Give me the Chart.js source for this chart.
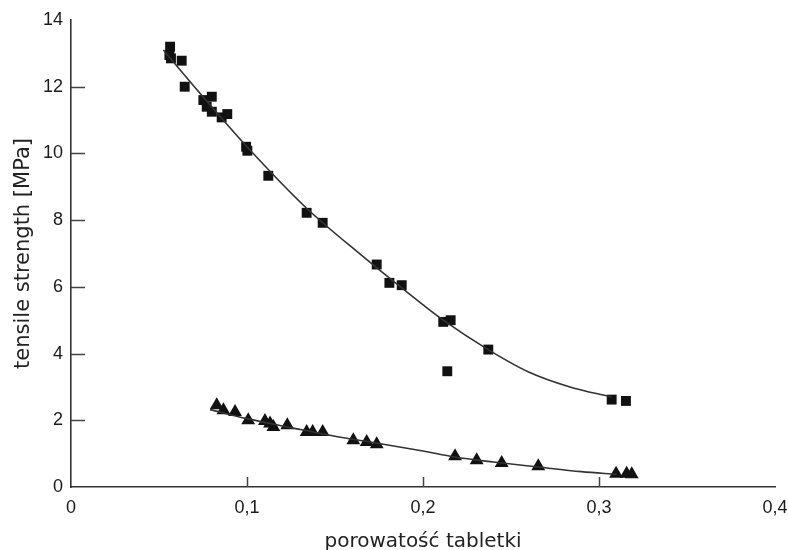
<!DOCTYPE html>
<html>
<head>
<meta charset="utf-8">
<script src="https://cdn.jsdelivr.net/npm/chart.js@4"></script>
<style>
  html, body { margin: 0; padding: 0; background: #ffffff; }
  #wrap { width: 788px; height: 550px; }
</style>
</head>
<body>
<div id="wrap"><canvas id="c" width="788" height="550"></canvas></div>
<script>
// ---- data ----
const squareX = [0.0563, 0.0559, 0.0568, 0.0629, 0.0646, 0.0752, 0.0800, 0.0771, 0.0800, 0.0856, 0.0888, 0.0995, 0.1002, 0.1121, 0.1339, 0.1430, 0.1737, 0.1809, 0.1879, 0.2115, 0.2157, 0.2138, 0.2371, 0.3072, 0.3153];
const squareY = [13.2, 12.95, 12.85, 12.78, 12.0, 11.6, 11.7, 11.4, 11.25, 11.08, 11.18, 10.2, 10.08, 9.33, 8.22, 7.92, 6.67, 6.12, 6.05, 4.95, 5.0, 3.47, 4.12, 2.62, 2.58];

const triX = [0.0828, 0.0866, 0.0932, 0.1007, 0.1102, 0.1131, 0.1150, 0.1229, 0.1339, 0.1373, 0.1430, 0.1604, 0.1680, 0.1737, 0.2182, 0.2305, 0.2447, 0.2655, 0.3097, 0.3157, 0.3186];
const triY = [2.45, 2.3, 2.25, 2.0, 1.98, 1.9, 1.8, 1.85, 1.65, 1.65, 1.65, 1.4, 1.35, 1.28, 0.92, 0.8, 0.72, 0.62, 0.4, 0.4, 0.38];

const squareFitX = [0.0525, 0.075, 0.100, 0.134, 0.165, 0.1943, 0.2115, 0.237, 0.260, 0.2835, 0.307];
const squareFitY = [13.1, 11.7, 10.2, 8.35, 6.95, 5.7, 5.0, 4.12, 3.45, 3.0, 2.7];

const triFitX = [0.079, 0.100, 0.125, 0.150, 0.170, 0.200, 0.218, 0.240, 0.2655, 0.290, 0.310];
const triFitY = [2.32, 2.05, 1.78, 1.52, 1.35, 1.08, 0.90, 0.75, 0.60, 0.46, 0.38];

const xTicks = [0, 0.1, 0.2, 0.3, 0.4];
const xTickLabels = ['0', '0,1', '0,2', '0,3', '0,4'];
const yTicks = [0, 2, 4, 6, 8, 10, 12, 14];
const yTickLabels = ['0', '2', '4', '6', '8', '10', '12', '14'];

const xTitle = 'porowatość tabletki';
const yTitle = 'tensile strength [MPa]';

// ---- chart ----
const toPts = (xs, ys) => xs.map((x, i) => ({ x: x, y: ys[i] }));

const innerTicks = {
  id: 'innerTicks',
  afterDraw(chart) {
    const ctx = chart.ctx;
    const xs = chart.scales.x, ys = chart.scales.y;
    const area = chart.chartArea;
    ctx.save();
    ctx.strokeStyle = '#444';
    ctx.lineWidth = 1.5;
    ctx.beginPath();
    yTicks.slice(1, -1).forEach(v => {
      const py = Math.round(ys.getPixelForValue(v)) + 0.5;
      ctx.moveTo(area.left, py);
      ctx.lineTo(area.left + 14, py);
    });
    xTicks.slice(1, -1).forEach(v => {
      const px = Math.round(xs.getPixelForValue(v)) + 0.5;
      ctx.moveTo(px, area.bottom);
      ctx.lineTo(px, area.bottom - 10);
    });
    ctx.stroke();
    ctx.restore();
  }
};

new Chart(document.getElementById('c'), {
  type: 'scatter',
  data: {
    datasets: [
      {
        label: 'fit squares',
        data: toPts(squareFitX, squareFitY),
        showLine: true,
        borderColor: '#333',
        borderWidth: 1.6,
        pointRadius: 0,
        cubicInterpolationMode: 'monotone',
        fill: false
      },
      {
        label: 'fit triangles',
        data: toPts(triFitX, triFitY),
        showLine: true,
        borderColor: '#333',
        borderWidth: 1.6,
        pointRadius: 0,
        cubicInterpolationMode: 'monotone',
        fill: false
      },
      {
        label: 'squares',
        data: toPts(squareX, squareY),
        pointStyle: 'rect',
        pointRadius: 7,
        backgroundColor: '#111',
        borderColor: '#111',
        borderWidth: 0
      },
      {
        label: 'triangles',
        data: toPts(triX, triY),
        pointStyle: 'triangle',
        pointRadius: 8,
        backgroundColor: '#111',
        borderColor: '#111',
        borderWidth: 0
      }
    ]
  },
  options: {
    responsive: false,
    animation: false,
    layout: { padding: { top: 20, right: 13, left: 0, bottom: 0 } },
    plugins: {
      legend: { display: false },
      tooltip: { enabled: false }
    },
    scales: {
      x: {
        type: 'linear',
        min: 0, max: 0.4,
        afterBuildTicks: s => { s.ticks = xTicks.map(v => ({ value: v })); },
        afterFit: s => { s.height = 63; s.paddingLeft = 0; s.paddingRight = 0; },
        grid: { display: false, drawTicks: false },
        border: { display: true, color: '#333', width: 1.6 },
        ticks: {
          padding: 10,
          color: '#1a1a1a',
          font: { family: 'Liberation Sans', size: 18 },
          maxRotation: 0,
          callback: (v, i) => xTickLabels[i]
        },
        title: {
          display: true,
          text: xTitle,
          color: '#222',
          font: { family: 'DejaVu Sans', size: 20 },
          padding: { top: 0, bottom: -4 }
        }
      },
      y: {
        type: 'linear',
        min: 0, max: 14,
        afterBuildTicks: s => { s.ticks = yTicks.map(v => ({ value: v })); },
        afterFit: s => { s.width = 71; },
        grid: { display: false, drawTicks: false },
        border: { display: true, color: '#333', width: 1.6 },
        ticks: {
          padding: 8,
          color: '#1a1a1a',
          font: { family: 'Liberation Sans', size: 18 },
          callback: (v, i) => yTickLabels[i]
        },
        title: {
          display: true,
          text: yTitle,
          color: '#222',
          font: { family: 'DejaVu Sans', size: 21 },
          padding: { top: 11, bottom: 0 }
        }
      }
    }
  },
  plugins: [innerTicks]
});
</script>
</body>
</html>
